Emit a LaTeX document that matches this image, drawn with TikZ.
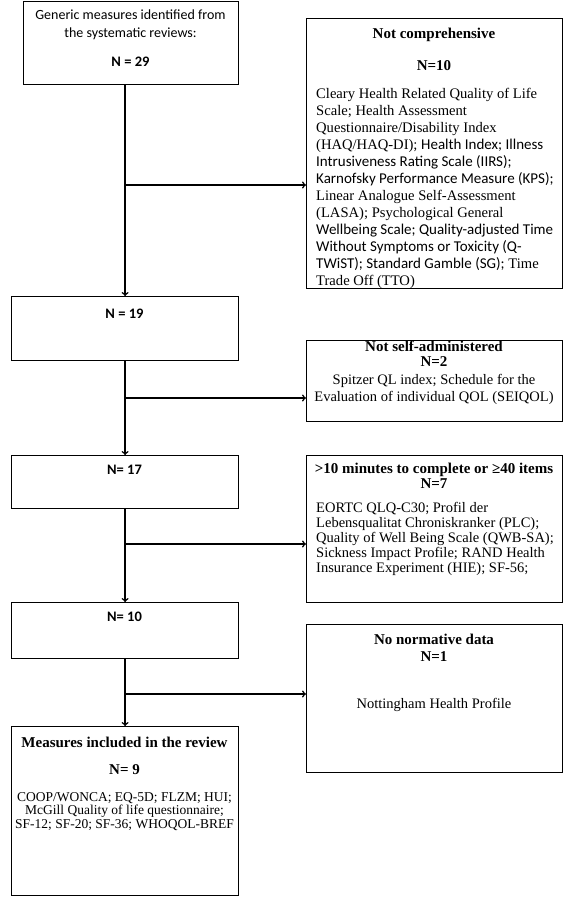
\documentclass[tikz,border=0pt]{standalone}
\usepackage{fontspec}
\setmainfont{Liberation Serif}
\newfontfamily\calib{Carlito}
\usetikzlibrary{calc,
	positioning}
\newcommand{\sz}[2]{\fontsize{#1}{#2}\selectfont}
% multi-line text nodes are placed by the baseline of their last line
\tikzstyle{bx}=[draw, line width=1.2pt, anchor=north west, inner sep=0]
\tikzstyle{lt}=[anchor=base, align=center, inner sep=0]
\tikzstyle{lft}=[anchor=base west, align=left, inner sep=0]
\tikzstyle{hd}=[lt, font=\bfseries\sz{15}{17}]
\tikzstyle{nn}=[lt, font=\calib\bfseries\sz{14.5}{17}]
\tikzstyle{arr}=[->, line width=1.5pt]

\begin{document}
\begin{tikzpicture}[x=1pt, y=-1pt]
	\useasboundingbox (0,0) rectangle (567,897);
	% left column
	\node[bx, minimum width=215pt, minimum height=83pt] (gen) at (23,1) {};
	\node[bx, minimum width=227pt, minimum height=64pt] (n19) at (11,296) {};
	\node[bx, minimum width=227pt, minimum height=53pt] (n17) at (11,455) {};
	\node[bx, minimum width=227pt, minimum height=56pt] (n10) at (11,602) {};
	\node[bx, minimum width=227pt, minimum height=169pt] (incl) at (11,726) {};
	% right column
	\node[bx, minimum width=256pt, minimum height=270pt] (notc) at (306,18) {};
	\node[bx, minimum width=256pt, minimum height=81pt] (nsa) at (306,340) {};
	\node[bx, minimum width=256pt, minimum height=147pt] (long) at (306,455) {};
	\node[bx, minimum width=256pt, minimum height=148pt] (nnd) at (306,624) {};

	% texts
	\node[lt, font=\calib\sz{14}{18}] (gen-t) at (130.5,37.5) {Generic measures identified from\\the systematic reviews:};
	\node[nn] (gen-n) at (130.5,66.5) {N = 29};
	\node[nn] (n19-n) at (124.5,318) {N = 19};
	\node[nn] (n17-n) at (124.5,474) {N= 17};
	\node[nn] (n10-n) at (124.5,621) {N= 10};

	\node[hd] (notc-h) at (434,38) {Not comprehensive};
	\node[hd] (notc-n) at (434,70) {N=10};
	\node[lft, font=\sz{14.6}{17}] (notc-l) at (316,285) {Cleary Health Related Quality of Life\\
		Scale; Health Assessment\\
		Questionnaire/Disability Index\\
		(HAQ/HAQ-DI); {\calib\sz{15}{17}Health Index; Illness}\\
		{\calib\sz{15}{17}Intrusiveness Rating Scale (IIRS);}\\
		{\calib\sz{15}{17}Karnofsky Performance Measure (KPS);}\\
		Linear Analogue Self-Assessment\\
		(LASA); Psychological General\\
		{\calib\sz{15}{17}Wellbeing Scale; Quality-adjusted Time}\\
		{\calib\sz{15}{17}Without Symptoms or Toxicity (Q-}\\
		{\calib\sz{15}{17}TWiST); Standard Gamble (SG);} Time\\
		Trade Off (TTO)};

	\node[hd, font=\bfseries\sz{15}{15}] (nsa-h) at (434,366) {Not self-administered\\N=2};
	\node[lt, font=\sz{14.5}{17}] (nsa-l) at (434,401) {Spitzer QL index; Schedule for the\\Evaluation of individual QOL (SEIQOL)};

	\node[hd, font=\bfseries\sz{15}{15}] (long-h) at (434,488) {>10 minutes to complete or ≥40 items\\N=7};
	\node[lft, font=\sz{14.5}{15}] (long-l) at (316,572) {EORTC QLQ-C30; Profil der\\
		Lebensqualitat Chroniskranker (PLC);\\
		Quality of Well Being Scale (QWB-SA);\\
		Sickness Impact Profile; RAND Health\\
		Insurance Experiment (HIE); SF-56;};

	\node[hd] (nnd-h) at (434,661) {No normative data\\N=1};
	\node[lt, font=\sz{14.5}{17}] (nnd-l) at (434,708) {Nottingham Health Profile};

	\node[hd, font=\bfseries\sz{15}{27}] (incl-h) at (124.5,774) {Measures included in the review\\N= 9};
	\node[lt, font=\sz{13.5}{13.5}] (incl-l) at (124.5,828) {COOP/WONCA; EQ-5D; FLZM; HUI;\\McGill Quality of life questionnaire;\\SF-12; SF-20; SF-36; WHOQOL-BREF};

	% connectors
	\coordinate (j1) at (124.5,185);
	\coordinate (j2) at (124.5,398);
	\coordinate (j3) at (124.5,544);
	\coordinate (j4) at (124.5,694);
	\draw[arr] (gen.south -| n19.north) -- (n19.north);
	\draw[arr] (j1) -- (j1 -| notc.west);
	\draw[arr] (n19.south) -- (n17.north);
	\draw[arr] (j2) -- (j2 -| nsa.west);
	\draw[arr] (n17.south) -- (n10.north);
	\draw[arr] (j3) -- (j3 -| long.west);
	\draw[arr] (n10.south) -- (incl.north);
	\draw[arr] (j4) -- (j4 -| nnd.west);
\end{tikzpicture}
\end{document}
